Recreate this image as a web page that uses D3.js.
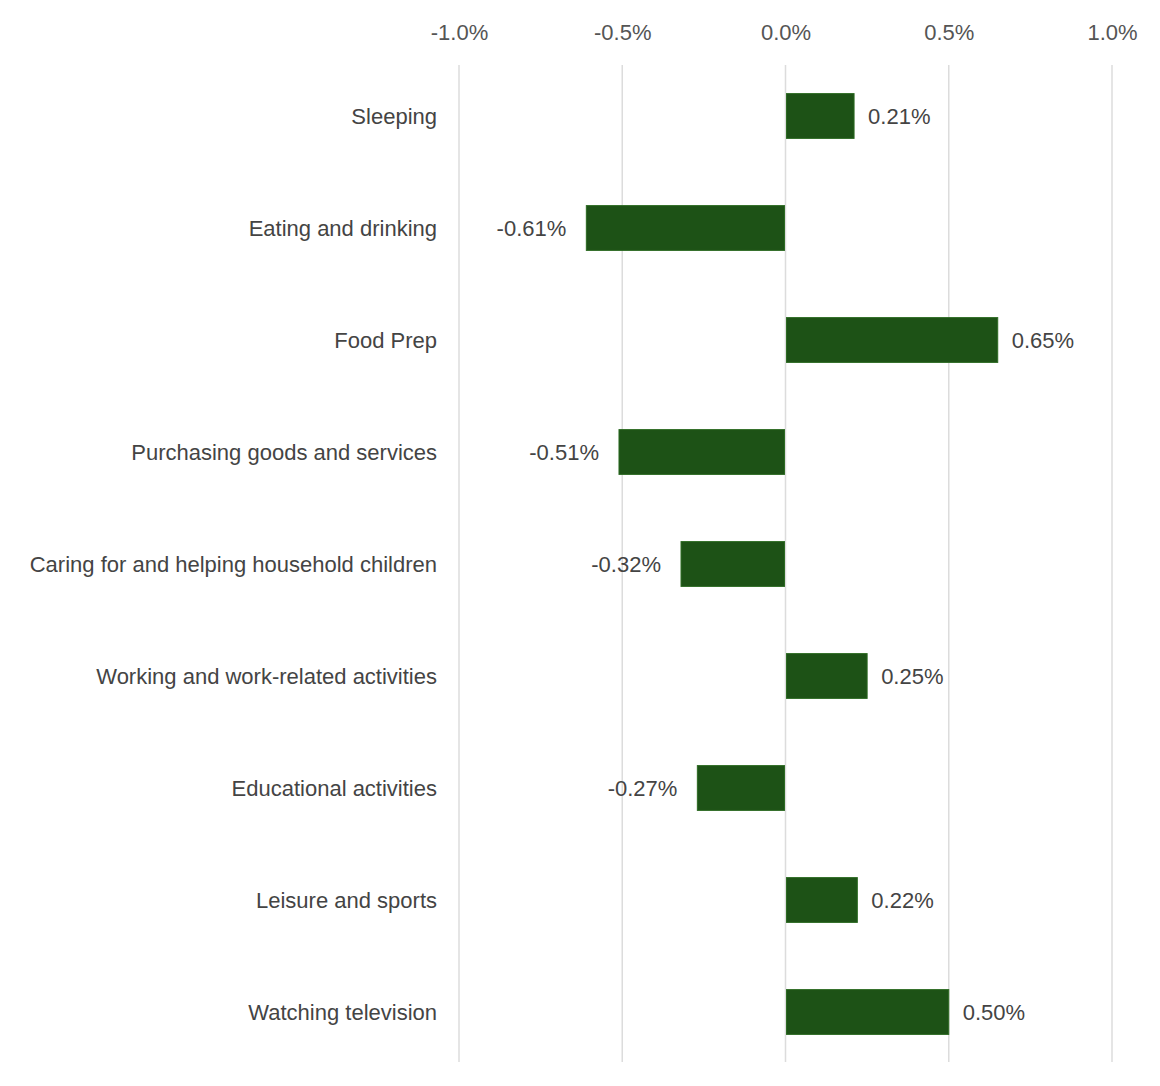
<!DOCTYPE html>
<html>
<head>
<meta charset="utf-8">
<script src="https://cdn.jsdelivr.net/npm/d3@7"></script>
<style>
  html, body { margin: 0; padding: 0; background: #fff; }
  svg { display: block; font-family: "Liberation Sans", Arial, Helvetica, sans-serif; }
</style>
</head>
<body>
<svg id="chart" width="1160" height="1086"></svg>
<script>
// Change in share of time by activity (percent)
const activities = [
  "Sleeping",
  "Eating and drinking",
  "Food Prep",
  "Purchasing goods and services",
  "Caring for and helping household children",
  "Working and work-related activities",
  "Educational activities",
  "Leisure and sports",
  "Watching television"
];
const changes = [0.21, -0.61, 0.65, -0.51, -0.32, 0.25, -0.27, 0.22, 0.50];
const tickValues = [-1.0, -0.5, 0.0, 0.5, 1.0];
const tickLabels = ["-1.0%", "-0.5%", "0.0%", "0.5%", "1.0%"];

const data = activities.map((name, i) => ({ name, value: changes[i] }));

const svg = d3.select("#chart");
const margin = { top: 60, left: 459, right: 48, bottom: 18 };
const width = 1160, height = 1086;
const fontSize = 22;

const x = d3.scaleLinear()
  .domain([-1, 1])
  .range([margin.left, width - margin.right]);

const y = d3.scaleBand()
  .domain(activities)
  .range([margin.top, height - margin.bottom])
  .paddingInner(0.6)
  .paddingOuter(0.3);

// vertical gridlines
svg.append("g")
  .selectAll("line")
  .data(tickValues)
  .join("line")
  .attr("x1", d => x(d)).attr("x2", d => x(d))
  .attr("y1", 65).attr("y2", 1062)
  .attr("stroke", "#dcdcdc")
  .attr("stroke-width", 1.5);

// top axis labels
const axis = d3.axisTop(x)
  .tickValues(tickValues)
  .tickFormat((d, i) => tickLabels[i])
  .tickSize(0)
  .tickPadding(0);
const ax = svg.append("g")
  .attr("transform", "translate(0,40)")
  .call(axis);
ax.select(".domain").remove();
ax.selectAll("text")
  .attr("font-size", fontSize)
  .attr("fill", "#555")
  .style("font-family", "'Liberation Sans', Arial, sans-serif");

// category labels
svg.append("g")
  .selectAll("text")
  .data(data)
  .join("text")
  .attr("x", 437)
  .attr("y", d => y(d.name) + y.bandwidth() / 2)
  .attr("dy", "0.35em")
  .attr("text-anchor", "end")
  .attr("font-size", fontSize)
  .attr("fill", "#444")
  .text(d => d.name);

// bars
svg.append("g")
  .selectAll("rect")
  .data(data)
  .join("rect")
  .attr("x", d => x(Math.min(0, d.value)) + (d.value > 0 ? 1 : 0))
  .attr("y", d => y(d.name))
  .attr("width", d => Math.abs(x(d.value) - x(0)) - 1)
  .attr("height", y.bandwidth())
  .attr("fill", "#1d5216")
  .attr("stroke", "#2c6a22")
  .attr("stroke-width", 1);

// value labels
svg.append("g")
  .selectAll("text")
  .data(data)
  .join("text")
  .attr("x", d => d.value >= 0 ? x(d.value) + 14 : x(d.value) - 20)
  .attr("y", d => y(d.name) + y.bandwidth() / 2)
  .attr("dy", "0.35em")
  .attr("text-anchor", d => d.value >= 0 ? "start" : "end")
  .attr("font-size", fontSize)
  .attr("fill", "#444")
  .text(d => d.value.toFixed(2) + "%");
</script>
</body>
</html>
